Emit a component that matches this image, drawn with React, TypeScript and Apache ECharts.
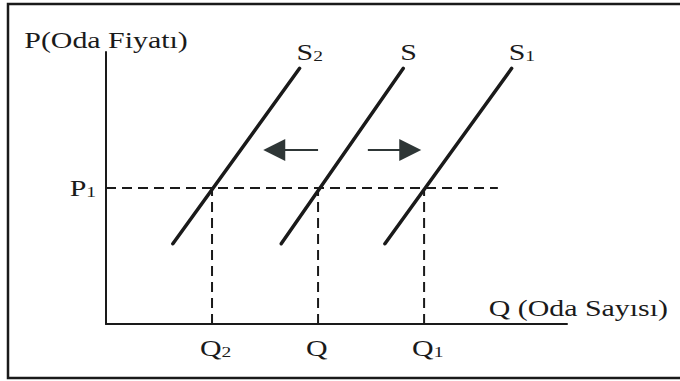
import React, { useEffect, useRef } from "react";
import * as echarts from "echarts";

// Supply curves (Q, P) end points
const s2Line: number[][] = [[1.45, 2.95], [4.2, 9.4]];
const sLine: number[][] = [[3.8, 2.95], [6.45, 9.4]];
const s1Line: number[][] = [[6.05, 2.95], [8.8, 9.4]];
const supplyNames = ["S", "S", "S"];
const supplySubs = ["2", "", "1"];

// Equilibrium price and quantities
const p1 = 5;
const priceLineEnd = 8.5;
const quantities = [2.3, 4.6, 6.9];
const qNames = ["Q", "Q", "Q"];
const qSubs = ["2", "", "1"];

// Shift arrows [tail, head]
const leftArrow: number[][] = [[4.6, 6.4], [3.65, 6.4]];
const rightArrow: number[][] = [[5.68, 6.4], [6.6, 6.4]];

const yAxisName = "P(Oda Fiyatı)";
const xAxisName = "Q (Oda Sayısı)";

const FONT = "Liberation Serif";
const INK = "#1a1a1a";

export default function App() {
  const ref = useRef<HTMLDivElement>(null);
  useEffect(() => {
    if (!ref.current) return;
    const chart = echarts.init(ref.current, null, { renderer: "svg" });
    const dashStyle = { color: INK, width: 2, type: [10, 6] as any };
    const series: any[] = [];
    [s2Line, sLine, s1Line].forEach((d, i) => {
      series.push({
        type: "line",
        name: supplyNames[i] + supplySubs[i],
        data: d,
        symbol: "none",
        lineStyle: { color: INK, width: 3.5, cap: "round" },
        z: 5,
      });
    });
    series.push({
      type: "line",
      data: [[0, p1], [priceLineEnd, p1]],
      symbol: "none",
      lineStyle: dashStyle,
    });
    quantities.forEach((q) => {
      series.push({
        type: "line",
        data: [[q, 0], [q, p1]],
        symbol: "none",
        lineStyle: dashStyle,
      });
    });
    series.push({
      type: "lines",
      coordinateSystem: "cartesian2d",
      symbol: ["none", "triangle"],
      symbolSize: [12, 22],
      lineStyle: { color: "#2e3636", width: 2, opacity: 1 },
      data: [{ coords: leftArrow }, { coords: rightArrow }],
      z: 6,
    });

    chart.setOption({
      animation: false,
      backgroundColor: "#ffffff",
      grid: { left: 106, right: 113, top: 52, bottom: 57, outerBoundsMode: "none" },
      xAxis: {
        type: "value",
        min: 0,
        max: 10,
        axisLine: { show: true, lineStyle: { color: INK, width: 2 } },
        axisTick: { show: false },
        axisLabel: { show: false },
        splitLine: { show: false },
      },
      yAxis: {
        type: "value",
        min: 0,
        max: 10,
        axisLine: { show: true, lineStyle: { color: INK, width: 2 } },
        axisTick: { show: false },
        axisLabel: { show: false },
        splitLine: { show: false },
      },
      series,
    });

    const px = (p: number[]) => chart.convertToPixel({ gridIndex: 0 }, p) as number[];
    const origin = px([0, 0]);
    const xEnd = px([10, 0]);
    const yTop = px([0, 10]);
    const rich = {
      sub: { fontSize: 15, fontFamily: FONT, fill: INK, verticalAlign: "bottom" as any, lineHeight: 14 },
    };
    const txt = (x: number, y: number, text: string, align: string, vAlign = "middle") => ({
      type: "text",
      x,
      y,
      scaleX: 1.3,
      z: 10,
      style: {
        text,
        fontFamily: FONT,
        fontSize: 23,
        fill: INK,
        align,
        verticalAlign: vAlign,
        rich,
      },
    });
    const graphic: any[] = [
      {
        type: "rect",
        shape: { x: 8, y: 4, width: 700, height: 374 },
        style: { fill: "none", stroke: INK, lineWidth: 2.5 },
        z: 1,
      },
    ];
    graphic.push(txt(yTop[0], yTop[1] - 12, yAxisName, "center"));
    graphic.push(txt(xEnd[0] + 101, xEnd[1] - 16, xAxisName, "right"));
    const pp = px([0, p1]);
    graphic.push(txt(pp[0] - 10, pp[1], "P{sub|1}", "right"));
    quantities.forEach((q, i) => {
      const p = px([q, 0]);
      const t = qSubs[i] ? `${qNames[i]}{sub|${qSubs[i]}}` : qNames[i];
      graphic.push(txt(p[0] - 12, origin[1] + 24, t, "left"));
    });
    [s2Line, sLine, s1Line].forEach((d, i) => {
      const top = px(d[1]);
      const t = supplySubs[i] ? `${supplyNames[i]}{sub|${supplySubs[i]}}` : supplyNames[i];
      graphic.push(txt(top[0] - 3, top[1] - 16, t, "left"));
    });
    chart.setOption({ graphic });

    return () => chart.dispose();
  }, []);
  return (
    <div
      ref={ref}
      style={{ position: "fixed", left: 0, top: 0, width: 680, height: 381, background: "#fff" }}
    />
  );
}
